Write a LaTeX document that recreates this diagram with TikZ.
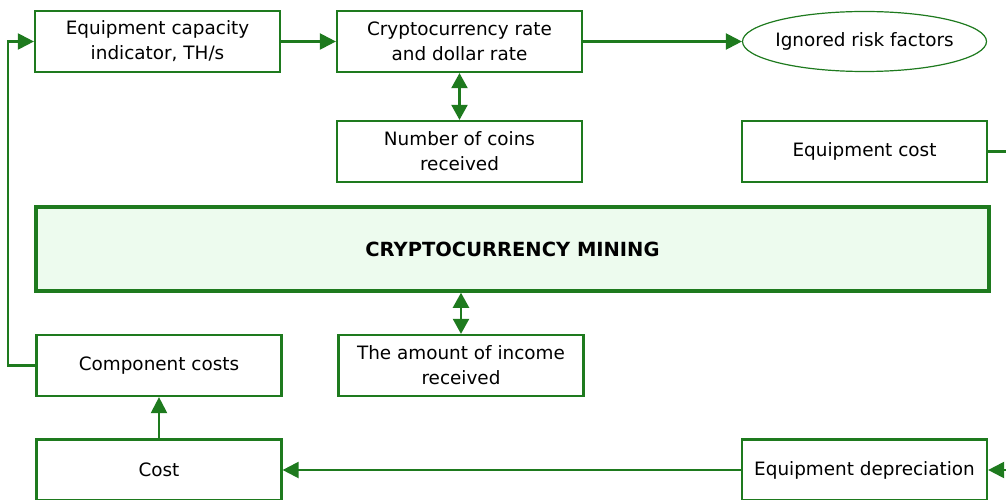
\documentclass[tikz,border=0pt]{standalone}
\usepackage{fontspec}
\setmainfont{DejaVu Sans}
\usetikzlibrary{arrows.meta,shapes.geometric}
\definecolor{gr}{RGB}{30,122,30}
\definecolor{mainfill}{RGB}{237,251,238}
\begin{document}
\begin{tikzpicture}[x=1pt,y=-1pt,
  box/.style={draw=gr,line width=2.2pt,fill=white,minimum width=245pt,minimum height=61pt,inner sep=0pt,align=center,font=\fontsize{18.4}{25}\selectfont},
  oval/.style={draw=gr,line width=1.2pt,ellipse,fill=white,minimum width=244pt,minimum height=60pt,inner sep=0pt,align=center,font=\fontsize{18.4}{25}\selectfont},
  conn/.style={draw=gr,line width=2.2pt,-{Triangle[length=16pt,width=16pt]}},
  dconn/.style={draw=gr,line width=2.2pt,{Triangle[length=15pt,width=16pt]}-{Triangle[length=15pt,width=16pt]}},
  plain/.style={draw=gr,line width=2.2pt}]
\useasboundingbox (0,0) rectangle (1006,500);
\node[box] (cap) at (157.5,41.5) {Equipment capacity\\indicator, TH/s};
\node[box] (rate) at (459.5,41.5) {Cryptocurrency rate\\and dollar rate};
\node[oval] (risk) at (864.5,41.5) {\makebox[0pt]{Ignored risk factors}};
\node[box] (coins) at (459.5,151.5) {Number of coins\\received};
\node[box] (eqcost) at (864.5,151.5) {Equipment cost};
\node[draw=gr,line width=3.5pt,fill=mainfill,minimum width=953pt,minimum height=84pt,inner sep=0pt,font=\fontsize{19.5}{25}\selectfont\bfseries] (main) at (512.5,249) {CRYPTOCURRENCY MINING};
\node[box] (comp) at (159,365.5) {Component costs};
\node[box] (income) at (461,365.5) {The amount of income\\received};
\node[box] (cost) at (159,470) {Cost};
\node[box] (dep) at (864.5,470) {Equipment depreciation};
\coordinate (eqend) at (1006,151.5);
\coordinate (depstart) at (1006,470);
\coordinate (lc1) at (8,365.5);
\coordinate (lc2) at (8,41.5);
\draw[conn] (cap) -- (rate);
\draw[conn] (rate) -- (risk);
\draw[dconn] (rate) -- (coins);
\draw[dconn] (income.north) -- (income.north |- main.south);
\draw[plain] (eqcost) -- (eqend);
\draw[conn] (depstart) -- (dep);
\draw[conn] (dep) -- (cost);
\draw[conn] (cost) -- (comp);
\draw[conn] (comp.west) -- (lc1) -- (lc2) -- (cap.west);
\end{tikzpicture}
\end{document}
